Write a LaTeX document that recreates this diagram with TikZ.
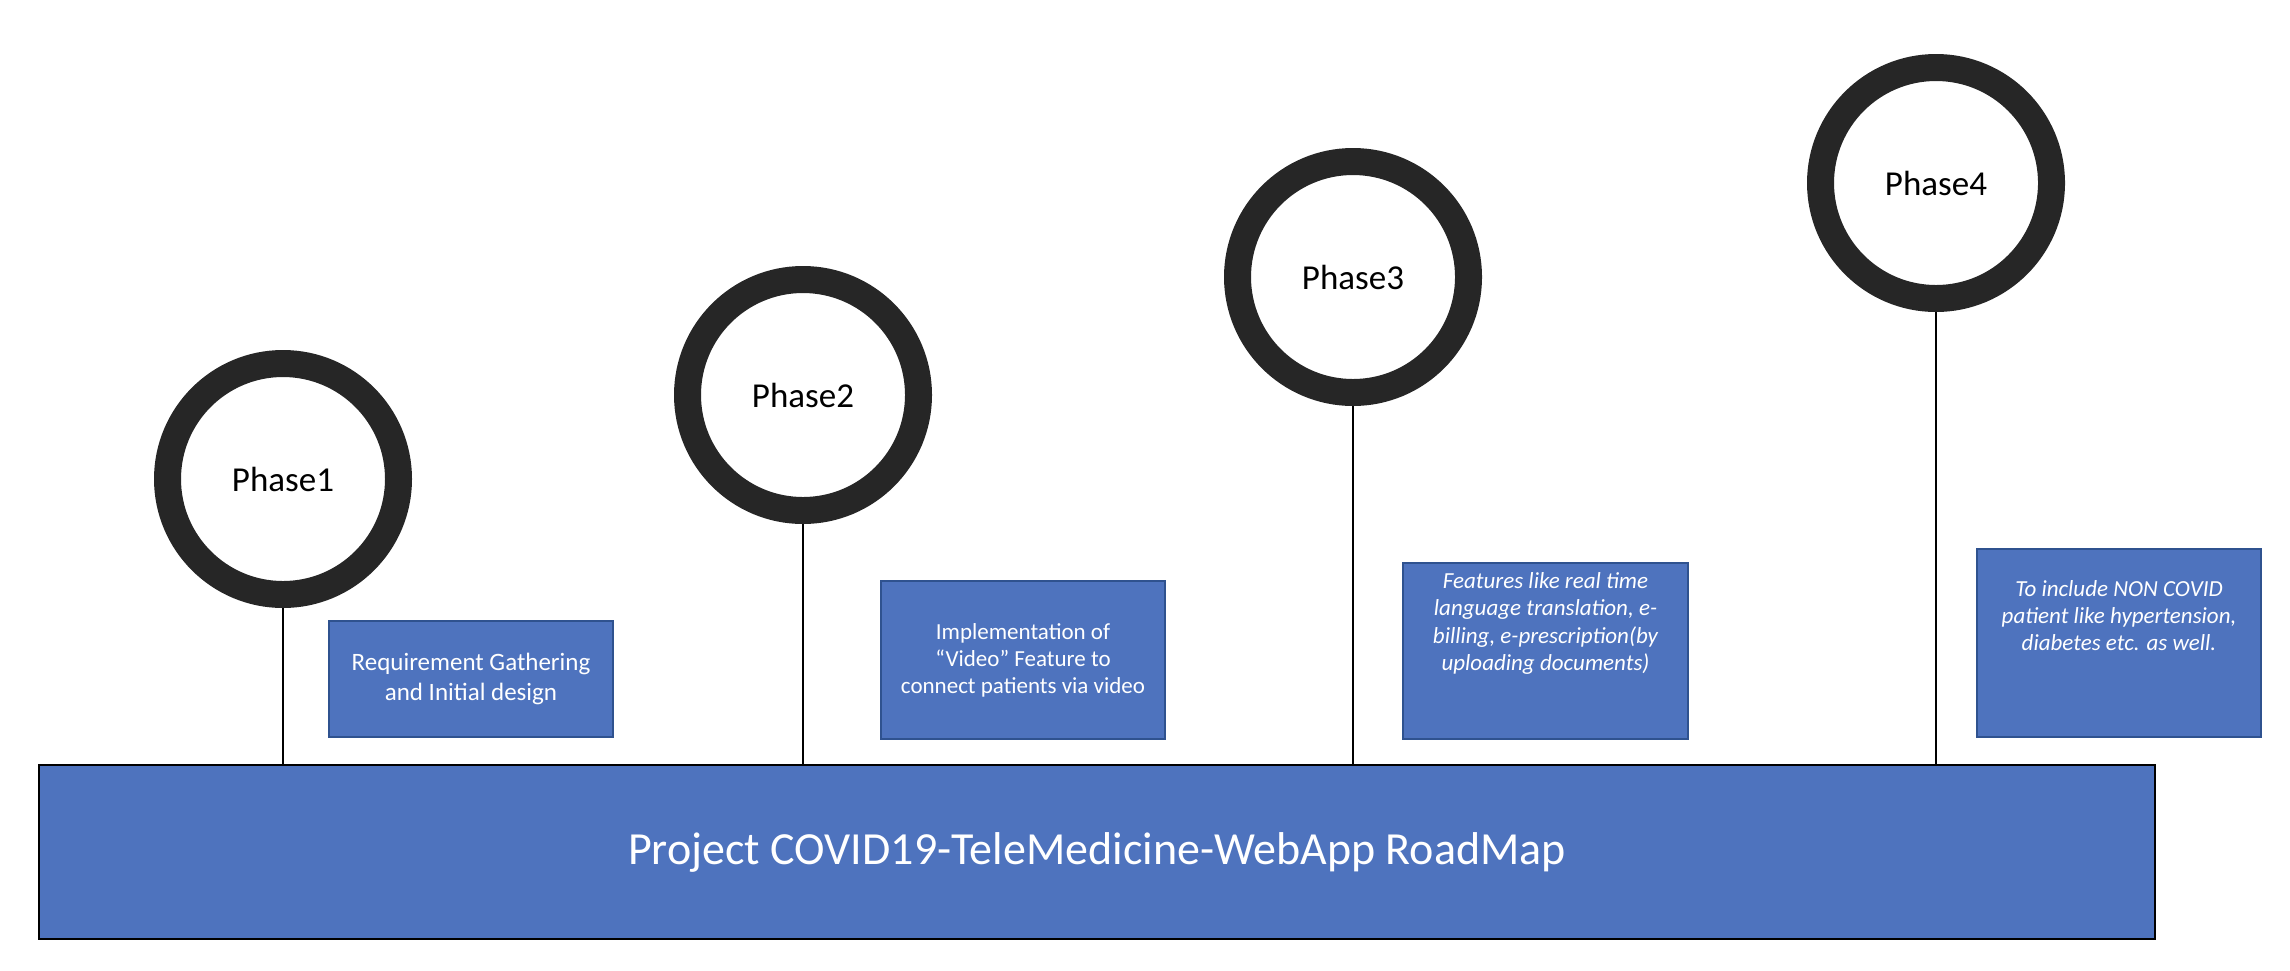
\documentclass[tikz,border=0pt]{standalone}
\usepackage{fontspec}
\setmainfont{Carlito}
\usepackage{tikz}
\usetikzlibrary{positioning}
\definecolor{ringgray}{RGB}{38,38,38}
\definecolor{boxblue}{RGB}{78,115,190}
\definecolor{boxedge}{RGB}{47,82,143}
\tikzset{
  phase/.style={circle,draw=ringgray,line width=13.5pt,fill=white,minimum size=115.5pt,inner sep=0pt,font=\fontsize{17.5}{21}\selectfont},
  descbox/.style={rectangle,draw=boxedge,line width=0.9pt,fill=boxblue,inner sep=0pt},
  desctext/.style={text=white,align=center,inner sep=0pt},
  stem/.style={line width=0.75pt,black}
}

\begin{document}
\begin{tikzpicture}[x=0.5pt,y=-0.5pt]
    \useasboundingbox (0,0) rectangle (2290,970);
    % Road bar
    \node[descbox,draw=black,line width=1pt,minimum width=1058pt,minimum height=87pt,desctext,font=\fontsize{23}{27}\selectfont] (road) at (1097,852) {Project COVID19-TeleMedicine-WebApp RoadMap};
    % Phase circles
    \node[phase] (p1) at (283,479) {Phase1};
    \node[phase] (p2) at (803,395) {Phase2};
    \node[phase] (p3) at (1353,277) {Phase3};
    \node[phase] (p4) at (1936,183) {Phase4};
    % Stems
    \draw[stem] (p1.south) to (p1.south |- road.north);
    \draw[stem] (p2.south) to (p2.south |- road.north);
    \draw[stem] (p3.south) to (p3.south |- road.north);
    \draw[stem] (p4.south) to (p4.south |- road.north);
    % Phase 1 box
    \node[descbox,minimum width=142pt,minimum height=58pt,desctext,font=\fontsize{12.5}{15}\selectfont] (d1) at (471,679) {Requirement Gathering\\and Initial design};
    % Phase 2 box
    \node[descbox,minimum width=142pt,minimum height=79pt,desctext,font=\fontsize{11.5}{13.5}\selectfont] (d2) at (1023,660) {Implementation of\\“Video” Feature to\\connect patients via video};
    % Phase 3 box
    \node[descbox,minimum width=142.5pt,minimum height=88pt] (d3) at (1545.5,651) {};
    \node[desctext,font=\fontsize{11.5}{13.75}\selectfont\itshape,below=5pt of d3.north] (t3) {Features like real time\\language translation, e-\\billing, e-prescription(by\\uploading documents)};
    % Phase 4 box
    \node[descbox,minimum width=142pt,minimum height=94pt] (d4) at (2119,643) {};
    \node[desctext,font=\fontsize{11.5}{13.5}\selectfont\itshape,below=16pt of d4.north] (t4) {To include NON COVID\\patient like hypertension,\\diabetes etc. as well.};
\end{tikzpicture}
\end{document}
